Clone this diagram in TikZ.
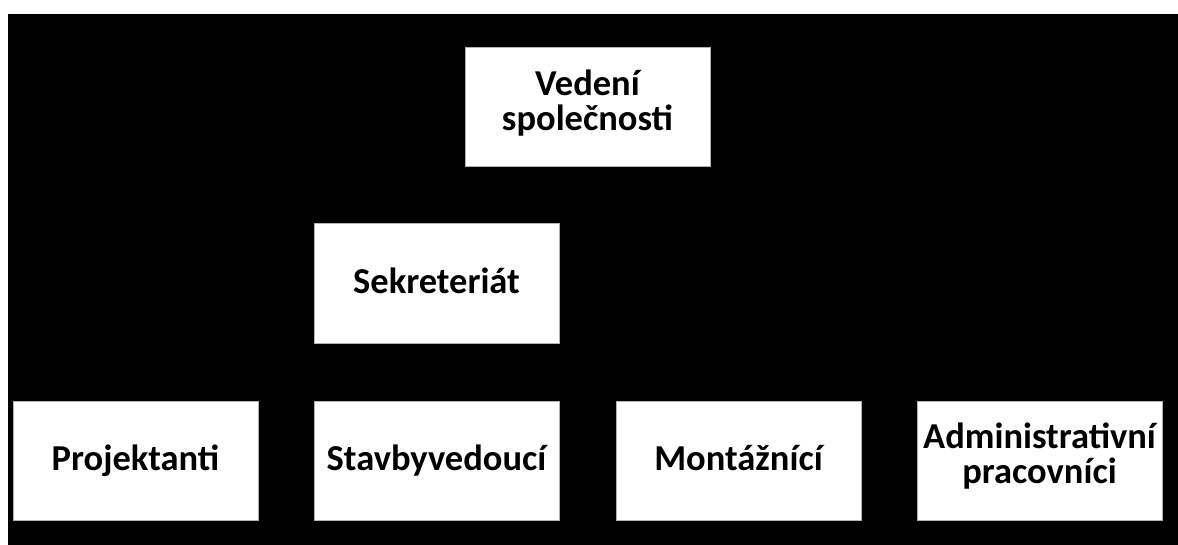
\documentclass[tikz,border=0pt]{standalone}
\usepackage{fontspec}
\setmainfont{Carlito}
\begin{document}
\begin{tikzpicture}[x=1pt,y=-1pt,
  orgbox/.style={draw=gray!60, line width=1pt, fill=white, rectangle,
    minimum width=245pt, minimum height=119pt, inner sep=0pt,
    align=center, font=\fontsize{36.5}{35}\selectfont\bfseries, text=black},
  oneline/.style={text height=26pt, text depth=6pt},
  twoline/.style={text depth=14pt}]
\useasboundingbox (0,0) rectangle (1178,545);
\fill[white] (0,0) rectangle (1178,545);
\fill[black] (8,14) rectangle (1178,545);
\node[orgbox,twoline] (ved) at (587.5,107) {Vedení\\společnosti};
\node[orgbox,oneline] (sek) at (436.5,283.5) {Sekreteriát};
\node[orgbox,oneline] (proj) at (135.5,460.5) {Projektanti};
\node[orgbox,oneline] (stav) at (436.5,460.5) {Stavbyvedoucí};
\node[orgbox,oneline] (mont) at (738.5,460.5) {Montážnící};
\node[orgbox,twoline] (adm) at (1039.5,460.5) {Administrativní\\pracovníci};
\end{tikzpicture}
\end{document}
